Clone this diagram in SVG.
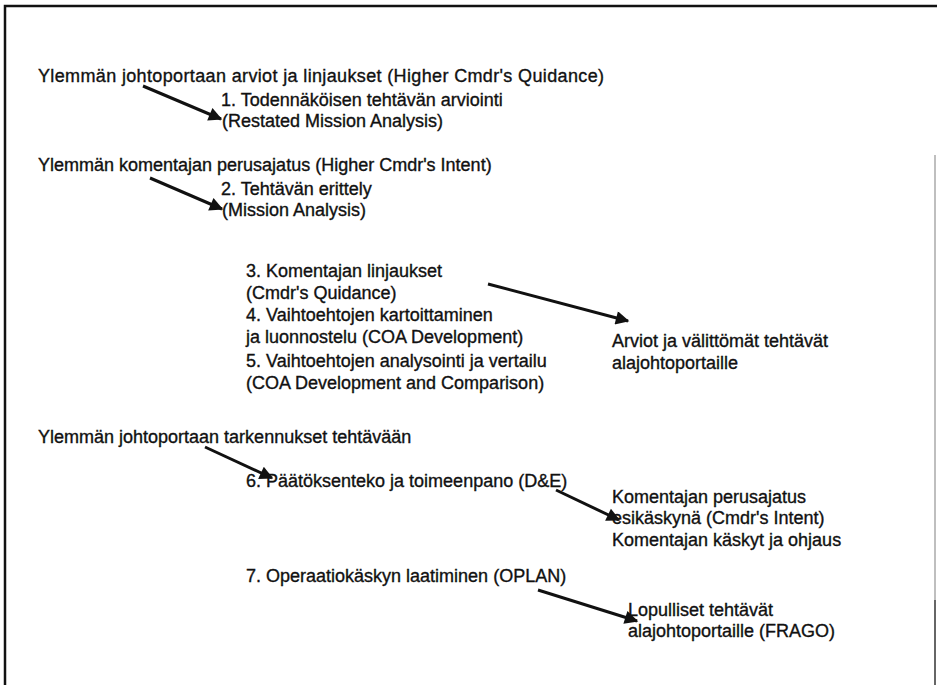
<svg xmlns="http://www.w3.org/2000/svg" width="937" height="685" viewBox="0 0 937 685">
<defs>
<style>
text{font-family:"Liberation Sans",Arial,sans-serif;font-size:18px;fill:#111;stroke:#111;stroke-width:0.35px;}
.c line{stroke:#111;stroke-width:3;marker-end:url(#ah);}
.frame{stroke:#111;stroke-width:2.5;fill:none;}
</style>
<marker id="ah" viewBox="0 0 10 10" refX="9" refY="5" markerWidth="6.5" markerHeight="4.5" orient="auto" markerUnits="strokeWidth">
<path d="M0,0 L10,5 L0,10 z" fill="#111"/>
</marker>
</defs>
<rect width="937" height="685" fill="#fff"/>
<g id="frame">
<path class="frame" d="M5,685 V6 H937"/>
<line x1="935" y1="155" x2="935" y2="600" stroke="#aaa" stroke-width="1.5"/>
<line x1="935" y1="600" x2="935" y2="685" stroke="#333" stroke-width="1.5"/>
</g>
<g id="n_higher_guidance"><text x="38" y="82" textLength="566" lengthAdjust="spacing">Ylemmän johtoportaan arviot ja linjaukset (Higher Cmdr's Quidance)</text></g>
<g id="n_step1"><text x="221" y="106">1. Todennäköisen tehtävän arviointi</text><text x="222" y="127">(Restated Mission Analysis)</text></g>
<g id="n_higher_intent"><text x="38" y="171">Ylemmän komentajan perusajatus (Higher Cmdr's Intent)</text></g>
<g id="n_step2"><text x="221" y="195">2. Tehtävän erittely</text><text x="222" y="216">(Mission Analysis)</text></g>
<g id="n_step3_5">
<text x="246" y="277">3. Komentajan linjaukset</text>
<text x="246" y="299">(Cmdr's Quidance)</text>
<text x="246" y="321">4. Vaihtoehtojen kartoittaminen</text>
<text x="246" y="343">ja luonnostelu (COA Development)</text>
<text x="246" y="367">5. Vaihtoehtojen analysointi ja vertailu</text>
<text x="246" y="389">(COA Development and Comparison)</text>
</g>
<g id="n_estimates"><text x="612" y="347">Arviot ja välittömät tehtävät</text><text x="612" y="369">alajohtoportaille</text></g>
<g id="n_higher_refine"><text x="38" y="443">Ylemmän johtoportaan tarkennukset tehtävään</text></g>
<g id="n_step6"><text x="246" y="487">6. Päätöksenteko ja toimeenpano (D&amp;E)</text></g>
<g id="n_intent"><text x="612" y="503">Komentajan perusajatus</text><text x="612" y="524">esikäskynä (Cmdr's Intent)</text><text x="612" y="546">Komentajan käskyt ja ohjaus</text></g>
<g id="n_step7"><text x="246" y="582">7. Operaatiokäskyn laatiminen (OPLAN)</text></g>
<g id="n_final"><text x="628" y="616">Lopulliset tehtävät</text><text x="628" y="637">alajohtoportaille (FRAGO)</text></g>
<g id="connectors" class="c">
<line x1="143" y1="86" x2="221" y2="119"/>
<line x1="150" y1="178" x2="222" y2="209"/>
<line x1="488" y1="284" x2="628" y2="321"/>
<line x1="205" y1="447" x2="272" y2="478"/>
<line x1="556" y1="490" x2="619" y2="520"/>
<line x1="538" y1="590" x2="637" y2="621"/>
</g>
</svg>
